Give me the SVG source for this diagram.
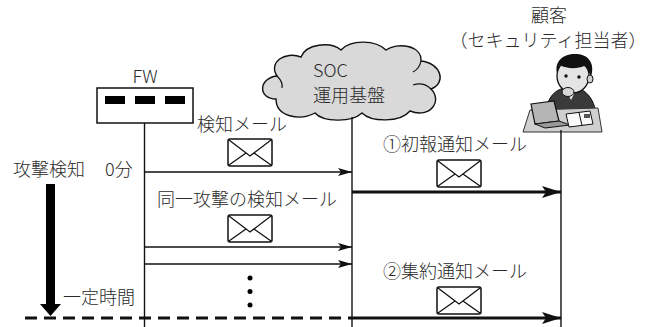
<svg xmlns="http://www.w3.org/2000/svg" width="645" height="327" viewBox="0 0 645 327">
  <style>
    text { font-family: "Noto Sans CJK JP", "Noto Sans", sans-serif; fill: #2a2a2a; font-size: 18px; font-weight: 300; }
    .life { stroke: #111; stroke-width: 1.4; fill: none; }
    .thin { stroke: #111; stroke-width: 1.4; fill: none; }
    .thick { stroke: #111; stroke-width: 3; fill: none; }
    .env rect { fill: #fff; stroke: #111; stroke-width: 1.5; }
    .env path { fill: none; stroke: #111; stroke-width: 1.3; }
  </style>
  <defs>
    <marker id="headThin" markerUnits="userSpaceOnUse" markerWidth="15" markerHeight="9" refX="14" refY="4" orient="auto">
      <path d="M0,0 L14,4 L0,8 L3,4 Z" fill="#111"/>
    </marker>
    <marker id="headThick" markerUnits="userSpaceOnUse" markerWidth="20" markerHeight="13" refX="19" refY="6" orient="auto">
      <path d="M0,0 L19,6 L0,12 L4,6 Z" fill="#111"/>
    </marker>
    <g id="envelope" class="env">
      <rect x="0" y="0" width="44" height="27" rx="2"/>
      <path d="M1,1 L22,17 L43,1 M1,26 L18,14 M43,26 L26,14"/>
    </g>
  </defs>

  <rect width="645" height="327" fill="#fff"/>

  <!-- firewall -->
  <g id="fw">
    <text x="145" y="83" text-anchor="middle">FW</text>
    <rect x="97" y="88" width="96" height="35" fill="#fff" stroke="#111" stroke-width="1.5"/>
    <rect x="105" y="96" width="20" height="8" fill="#000"/>
    <rect x="135" y="96" width="20" height="8" fill="#000"/>
    <rect x="165" y="96" width="20" height="8" fill="#000"/>
  </g>

  <!-- SOC platform cloud -->
  <g id="soc">
    <path d="M276,99 C258,99 258,78 277,76 C268,62 285,51 301,57 C306,44 330,41 341,50 C351,39 376,40 386,50 C397,42 422,45 421,61 C441,63 447,83 431,89 C443,101 430,119 410,111 C400,123 371,122 362,113 C351,123 323,122 315,113 C300,121 276,117 276,99 Z" fill="#d9d9d9" stroke="#111" stroke-width="1.4"/>
    <path d="M277,76 C281,80 283,84 282,88" fill="none" stroke="#111" stroke-width="1.2"/>
    <path d="M431,89 C426,84 419,83 413,85" fill="none" stroke="#111" stroke-width="1.2"/>
    <path d="M421,61 C420,66 417,70 413,72" fill="none" stroke="#111" stroke-width="1.2"/>
    <text x="313" y="77" font-size="17">SOC</text>
    <text x="313" y="102" font-size="17">運用基盤</text>
  </g>

  <!-- customer (security staff) -->
  <g id="customer">
    <text x="549" y="22" text-anchor="middle" font-size="16">顧客</text>
    <text x="548" y="46.5" text-anchor="middle" font-size="15.5">（セキュリティ担当者）</text>
    <!-- body -->
    <path d="M546,113 C547,97 555,89 568,87 C581,86 593,94 596,113 Z" fill="#3a3a3a" stroke="#111" stroke-width="1"/>
    <path d="M565,88 L571,100 L577,88 Z" fill="#f2f2f2"/>
    <!-- head -->
    <ellipse cx="573" cy="76" rx="16" ry="17" fill="#e4e4e4" stroke="#111" stroke-width="1.3"/>
    <path d="M557,73 C554,60 565,53 577,54 C590,55 595,65 591,77 C589,71 586,67 584,66 C578,69 566,69 560,65 C559,68 558,71 557,73 Z" fill="#111"/>
    <ellipse cx="590" cy="79" rx="3" ry="4" fill="#d0d0d0" stroke="#111" stroke-width="1"/>
    <circle cx="566" cy="76" r="1.7" fill="#111"/>
    <circle cx="579" cy="77" r="1.7" fill="#111"/>
    <!-- hand on chin -->
    <ellipse cx="568" cy="92" rx="6" ry="4.5" fill="#d6d6d6" stroke="#111" stroke-width="1"/>
    <!-- desk -->
    <polygon points="530,110 598,108 602,132 523,132" fill="#cfcfcf" stroke="#333" stroke-width="1"/>
    <!-- laptop -->
    <polygon points="531,104 554,101 559,121 535,124" fill="#b5b5b5" stroke="#111" stroke-width="1.2"/>
    <polygon points="535,124 559,121 570,125 545,128" fill="#9a9a9a" stroke="#111" stroke-width="1"/>
    <!-- papers -->
    <polygon points="566,114 590,111 593,124 569,127" fill="#fafafa" stroke="#111" stroke-width="1"/>
    <line x1="579" y1="112.5" x2="582" y2="125.5" stroke="#111" stroke-width="1"/>
    <rect x="584" y="114" width="6" height="4" fill="#555"/>
  </g>

  <!-- lifelines and messages -->
  <g id="connectors">
    <line class="life" x1="144.5" y1="123" x2="144.5" y2="327"/>
    <line class="life" x1="352" y1="117" x2="352" y2="327"/>
    <line class="life" x1="561" y1="130" x2="561" y2="327"/>

    <line class="thin" x1="144.5" y1="172" x2="352" y2="172" marker-end="url(#headThin)"/>
    <line class="thin" x1="144.5" y1="247" x2="352" y2="247" marker-end="url(#headThin)"/>
    <line class="thin" x1="144.5" y1="264" x2="352" y2="264" marker-end="url(#headThin)"/>

    <line class="thick" x1="352" y1="192" x2="561" y2="192" marker-end="url(#headThick)"/>
    <line class="thick" x1="25" y1="318" x2="352" y2="318" stroke-dasharray="12 7"/>
    <line class="thick" x1="352" y1="318" x2="561" y2="318" marker-end="url(#headThick)"/>

    <!-- elapsed time arrow -->
    <rect x="46" y="184" width="9" height="121" fill="#000"/>
    <polygon points="40,304 61,304 50.5,316" fill="#000"/>
  </g>

  <!-- message labels -->
  <g id="labels">
    <text x="197" y="131">検知メール</text>
    <use href="#envelope" x="228" y="139"/>
    <text x="13" y="176">攻撃検知</text>
    <text x="105" y="176">0分</text>
    <text x="157" y="206">同一攻撃の検知メール</text>
    <use href="#envelope" x="228" y="215"/>
    <circle cx="250" cy="278" r="2.5" fill="#000"/>
    <circle cx="250" cy="291.5" r="2.5" fill="#000"/>
    <circle cx="250" cy="305" r="2.5" fill="#000"/>
    <text x="63" y="304">一定時間</text>
    <text x="383" y="151">①初報通知メール</text>
    <use href="#envelope" x="437" y="160"/>
    <text x="383" y="278">②集約通知メール</text>
    <use href="#envelope" x="437" y="287"/>
  </g>
</svg>
